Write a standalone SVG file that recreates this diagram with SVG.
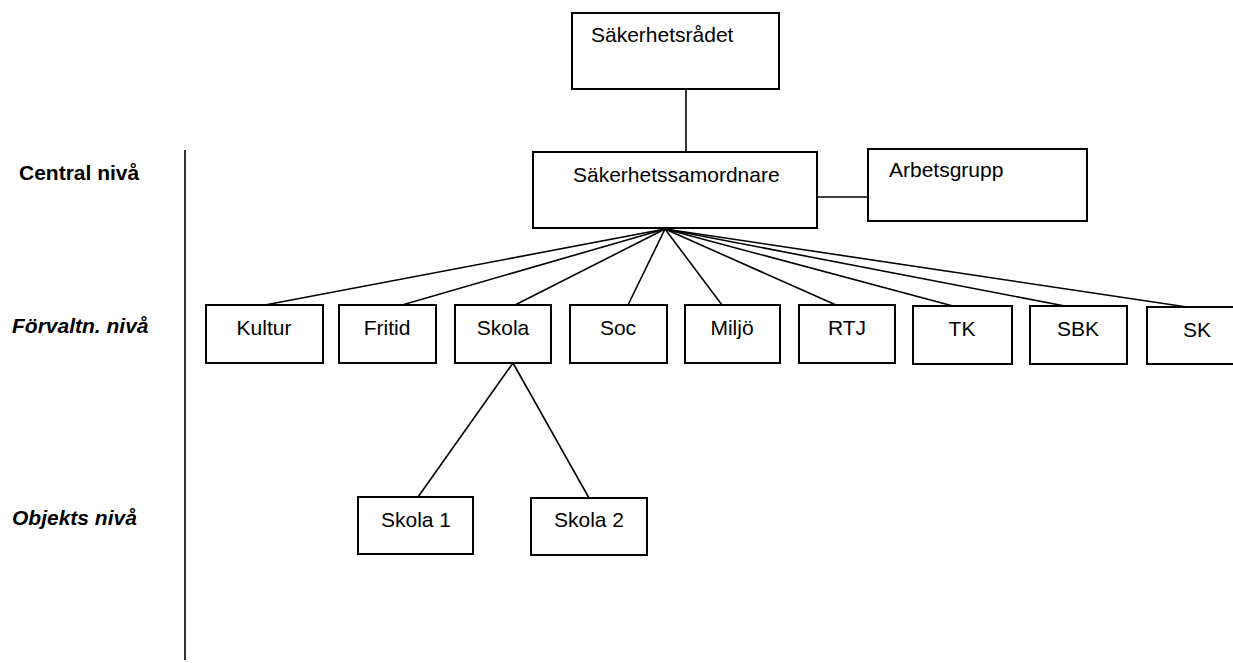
<svg xmlns="http://www.w3.org/2000/svg" width="1233" height="663" viewBox="0 0 1233 663">
<style>
.box{fill:#fff;stroke:#000;stroke-width:2}
.t{font-family:"Liberation Sans",Arial,sans-serif;font-size:21px;fill:#000}
.c{text-anchor:middle}
.lvl{font-family:"Liberation Sans",Arial,sans-serif;font-size:21px;font-weight:bold;fill:#000}
.it{font-style:italic}
.ln{stroke:#000;stroke-width:1.6;fill:none}
</style>
<rect width="1233" height="663" fill="#fff"/>
<g id="levels">
<text class="lvl" x="19" y="180">Central nivå</text>
<text class="lvl it" x="12" y="333">Förvaltn. nivå</text>
<text class="lvl it" x="12" y="525">Objekts nivå</text>
<line class="ln" x1="185" y1="150" x2="185" y2="660" stroke-width="2"/>
</g>
<g id="connectors">
<line class="ln" x1="686" y1="89" x2="686" y2="152"/>
<line class="ln" x1="817" y1="197" x2="868" y2="197"/>
<line class="ln" x1="665" y1="229" x2="265" y2="305"/>
<line class="ln" x1="665" y1="229" x2="402" y2="305"/>
<line class="ln" x1="665" y1="229" x2="515" y2="305"/>
<line class="ln" x1="665" y1="229" x2="628" y2="305"/>
<line class="ln" x1="665" y1="229" x2="722" y2="305"/>
<line class="ln" x1="665" y1="229" x2="836" y2="305"/>
<line class="ln" x1="665" y1="229" x2="953" y2="306"/>
<line class="ln" x1="665" y1="229" x2="1065" y2="306"/>
<line class="ln" x1="665" y1="229" x2="1187" y2="307"/>
<line class="ln" x1="513" y1="363" x2="418" y2="497"/>
<line class="ln" x1="513" y1="363" x2="589" y2="498"/>
</g>
<g id="sakerhetsradet"><rect class="box" x="572" y="13" width="207" height="76"/><text class="t" x="591" y="42">Säkerhetsrådet</text></g>
<g id="sakerhetssamordnare"><rect class="box" x="533" y="152" width="284" height="76"/><text class="t" x="573" y="182">Säkerhetssamordnare</text></g>
<g id="arbetsgrupp"><rect class="box" x="868" y="149" width="219" height="72"/><text class="t" x="889" y="177">Arbetsgrupp</text></g>
<g id="kultur"><rect class="box" x="206" y="305" width="117" height="58"/><text class="t c" x="264" y="335">Kultur</text></g>
<g id="fritid"><rect class="box" x="339" y="305" width="97" height="58"/><text class="t c" x="387" y="335">Fritid</text></g>
<g id="skola"><rect class="box" x="455" y="305" width="96" height="58"/><text class="t c" x="503" y="335">Skola</text></g>
<g id="soc"><rect class="box" x="570" y="305" width="97" height="58"/><text class="t c" x="618" y="335">Soc</text></g>
<g id="miljo"><rect class="box" x="685" y="305" width="95" height="58"/><text class="t c" x="732" y="335">Miljö</text></g>
<g id="rtj"><rect class="box" x="799" y="305" width="96" height="58"/><text class="t c" x="847" y="335">RTJ</text></g>
<g id="tk"><rect class="box" x="913" y="306" width="99" height="58"/><text class="t c" x="962" y="336">TK</text></g>
<g id="sbk"><rect class="box" x="1030" y="306" width="97" height="58"/><text class="t c" x="1078" y="336">SBK</text></g>
<g id="sk"><rect class="box" x="1147" y="307" width="100" height="57"/><text class="t c" x="1197" y="337">SK</text></g>
<g id="skola1"><rect class="box" x="358" y="497" width="115" height="57"/><text class="t" x="381" y="527">Skola 1</text></g>
<g id="skola2"><rect class="box" x="531" y="498" width="116" height="57"/><text class="t" x="554" y="527">Skola 2</text></g>
</svg>
